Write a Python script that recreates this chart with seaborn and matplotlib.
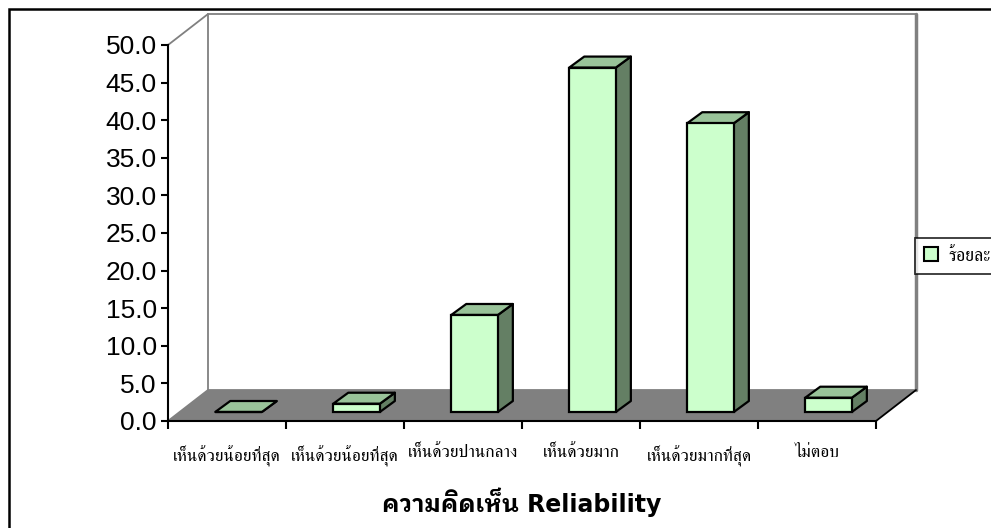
import matplotlib
matplotlib.use("Agg")
import matplotlib.pyplot as plt
from matplotlib.patches import Polygon, Rectangle, Patch
from matplotlib.lines import Line2D
import seaborn as sns
import pandas as pd

categories = ["เห็นด้วยน้อยที่สุด", "เห็นด้วยน้อยที่สุด", "เห็นด้วยปานกลาง",
              "เห็นด้วยมาก", "เห็นด้วยมากที่สุด", "ไม่ตอบ"]
percent = [0.0, 1.1, 12.9, 45.8, 38.4, 1.9]
y_ticks = [0, 5, 10, 15, 20, 25, 30, 35, 40, 45, 50]
series_name = "ร้อยละ"
x_title = "ความคิดเห็น Reliability"

sns.set_theme(style="white")
plt.rcParams["font.family"] = ["Liberation Sans", "DejaVu Sans"]
plt.rcParams["text.color"] = "black"
plt.rcParams["xtick.color"] = "black"
plt.rcParams["ytick.color"] = "black"

serif_thai = ["FreeSerif", "DejaVu Sans"]
title_fam = ["DejaVu Sans", "IBM Plex Sans Thai Looped", "Loma"]

fig = plt.figure(figsize=(9.91, 5.28), dpi=100)
ax = fig.add_axes([168 / 991, 107 / 528, 708 / 991, 376 / 528])

df = pd.DataFrame({"pos": list(range(len(categories))), "value": percent})

# oblique depth of the floor/walls and of each bar (data units)
DX, DY = 0.339, 4.12
SX, SY = 0.098, 1.2
BDX, BDY = 0.127, 1.46
front = "#CCFFCC"
top_c = "#99C399"
side_c = "#647F64"

ax.set_xlim(-0.5, 5.5)
ax.set_ylim(0, 50)

# floor and walls
ax.add_patch(Polygon([(-0.5, 0), (5.5, 0), (5.5 + DX, DY), (-0.5 + DX, DY)],
                     closed=True, facecolor="#808080", edgecolor="none",
                     clip_on=False, zorder=0.5))
ax.add_patch(Rectangle((-0.5 + DX, DY), 6, 50, facecolor="white",
                       edgecolor="#808080", lw=1.3, clip_on=False, zorder=0.4))
ax.add_line(Line2D([5.5 + DX, 5.5 + DX], [DY, 50 + DY], color="#808080",
                   lw=2.5, clip_on=False, zorder=0.6))
ax.add_line(Line2D([-0.5, -0.5 + DX], [50, 50 + DY], color="#808080",
                   lw=1.3, clip_on=False, zorder=0.6))
ax.add_line(Line2D([-0.5, -0.5 + DX], [0, DY], color="#808080",
                   lw=1.3, clip_on=False, zorder=0.6))
ax.add_line(Line2D([5.5, 5.5 + DX], [0, DY], color="black",
                   lw=1.3, clip_on=False, zorder=0.7))

sns.barplot(data=df, x="pos", y="value", ax=ax, width=0.395, color=front,
            saturation=1, edgecolor="black", linewidth=1.6, zorder=3)

# give every bar a depth: a shaded side and a lighter top
for p in list(ax.patches):
    if not isinstance(p, Rectangle) or p.get_facecolor()[:3] == (1.0, 1.0, 1.0):
        continue
    x0 = p.get_x() + SX
    w = p.get_width()
    h = p.get_height()
    p.set_x(x0)
    p.set_y(SY)
    p.set_clip_on(False)
    b = SY
    ax.add_patch(Polygon([(x0 + w, b), (x0 + w + BDX, b + BDY),
                          (x0 + w + BDX, b + h + BDY), (x0 + w, b + h)],
                         closed=True, facecolor=side_c, edgecolor="black",
                         lw=1.6, joinstyle="round", clip_on=False, zorder=2.9))
    ax.add_patch(Polygon([(x0, b + h), (x0 + w, b + h),
                          (x0 + w + BDX, b + h + BDY), (x0 + BDX, b + h + BDY)],
                         closed=True, facecolor=top_c, edgecolor="black",
                         lw=1.6, joinstyle="round", clip_on=False, zorder=2.9))

sns.despine(ax=ax, top=True, right=True)
for s in ("left", "bottom"):
    ax.spines[s].set_color("black")
    ax.spines[s].set_linewidth(1.5)
    ax.spines[s].set_zorder(5)

ax.set_yticks(y_ticks)
ax.set_yticklabels([f"{v:.1f}" for v in y_ticks], fontsize=19,
                   family=["Liberation Sans", "DejaVu Sans"], color="black")
ax.tick_params(axis="y", direction="out", length=5, width=1.5, pad=3, left=True)

ax.set_xticks(range(len(categories)))
ax.set_xticklabels(categories, fontsize=12.5, family=serif_thai, color="black")
ax.set_xticks([i - 0.5 for i in range(len(categories) + 1)], minor=True)
ax.tick_params(axis="x", which="major", length=0, pad=17)
ax.tick_params(axis="x", which="minor", direction="out", length=6, width=1.5,
               bottom=True)
ax.set_xlabel("")
ax.set_ylabel("")
ax.grid(False)

fig.text(522 / 991, 1 - 502 / 528, x_title, ha="center", va="center",
         fontsize=17, fontweight="bold", family=title_fam, color="black")

leg = ax.legend(handles=[Patch(facecolor=front, edgecolor="black", lw=1.5,
                               label=series_name)],
                loc="center left", bbox_to_anchor=(915 / 991, 1 - 256 / 528),
                bbox_transform=fig.transFigure, frameon=True, fancybox=False,
                prop={"family": serif_thai, "size": 13},
                handlelength=0.8, handleheight=0.8,
                borderpad=0.5, handletextpad=0.55, borderaxespad=0)
leg.get_frame().set_edgecolor("black")
leg.get_frame().set_linewidth(1.3)
for t in leg.get_texts():
    t.set_color("black")

# outer chart border
fig.add_artist(Rectangle((8.5 / 991, -0.2), 1.2, 1.2 - 8.5 / 528,
                         transform=fig.transFigure, fill=False,
                         edgecolor="black", lw=1.8))

fig.savefig("out.png", dpi=100)
